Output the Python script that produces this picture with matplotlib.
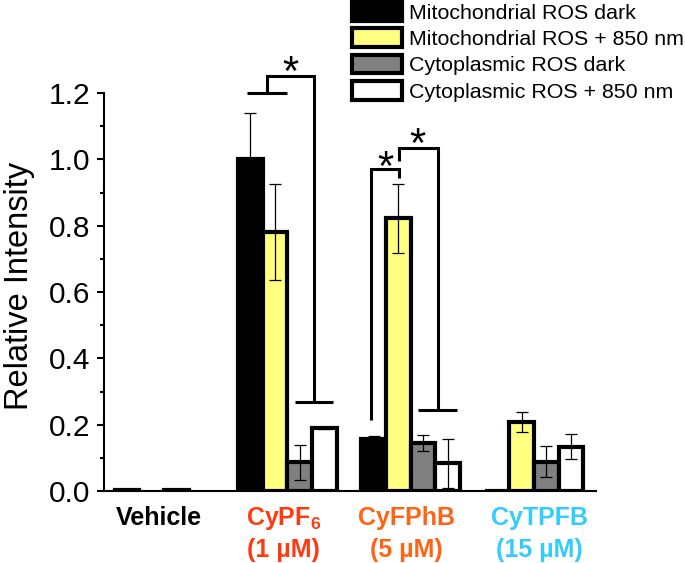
import numpy as np
import matplotlib
matplotlib.use("Agg")
import matplotlib.pyplot as plt
from matplotlib.transforms import offset_copy

plt.rcParams['font.family'] = ['Liberation Sans', 'DejaVu Sans']
plt.rcParams['mathtext.fontset'] = 'custom'
plt.rcParams['mathtext.rm'] = 'Liberation Sans'
plt.rcParams['mathtext.bf'] = 'Liberation Sans:bold'

groups = ["Vehicle", r"CyPF$_\mathbf{6}$", "CyFPhB", "CyTPFB"]
concentrations = ["", "(1 µM)", "(5 µM)", "(15 µM)"]
group_colors = ["#000000", "#FF3A10", "#FF6414", "#33CCFF"]
series = ["Mitochondrial ROS dark", "Mitochondrial ROS + 850 nm",
          "Cytoplasmic ROS dark", "Cytoplasmic ROS + 850 nm"]
series_colors = ["#000000", "#FFFF80", "#808080", "#FFFFFF"]

mito_dark = [0.003, 1.00, 0.157, 0.0]
mito_dark_err = [0.0, 0.14, 0.010, 0.0]
mito_850 = [np.nan, 0.782, 0.822, 0.209]
mito_850_err = [0.0, 0.145, 0.103, 0.030]
cyto_dark = [0.003, 0.087, 0.146, 0.088]
cyto_dark_err = [0.0, 0.053, 0.024, 0.047]
cyto_850 = [np.nan, 0.189, 0.083, 0.134]
cyto_850_err = [0.0, 0.003, 0.074, 0.037]

values = [mito_dark, mito_850, cyto_dark, cyto_850]
errors = [mito_dark_err, mito_850_err, cyto_dark_err, cyto_850_err]

fig = plt.figure(figsize=(6.85, 5.63), dpi=100)
ax = fig.add_axes([104/685, 1-491/563, 492/685, 398/563])

x = np.arange(len(groups))
w = 0.2
offsets = [-0.3, -0.1, 0.1, 0.3]
handles = []
for i in range(4):
    v = np.array(values[i], dtype=float)
    e = np.array(errors[i], dtype=float)
    mask = ~np.isnan(v)
    b = ax.bar(x[mask] + offsets[i], v[mask], width=w, color=series_colors[i],
               edgecolor='black', linewidth=3, zorder=2, label=series[i])
    handles.append(b)
    emask = mask & (e > 0)
    ax.errorbar(x[emask] + offsets[i], v[emask], yerr=e[emask], fmt='none',
                ecolor='black', elinewidth=0.9, capsize=4, capthick=0.9, zorder=3)

ax.set_xlim(-0.487, 3.504)
ax.set_ylim(0, 1.2)
yt = np.arange(0, 1.21, 0.2)
ax.set_yticks(yt)
ax.set_yticklabels([f"{t:.1f}" for t in yt], fontsize=21.5)
ax.set_yticks(np.arange(0.1, 1.2, 0.2), minor=True)
ax.tick_params(axis='y', which='major', length=5, width=1.5, direction='out', pad=5)
ax.tick_params(axis='y', which='minor', length=3, width=1.5, direction='out')
ax.set_xticks([])
for s in ['top', 'right']:
    ax.spines[s].set_visible(False)
ax.spines['left'].set_linewidth(1.5)
ax.spines['bottom'].set_linewidth(1.5)
ax.set_ylabel("Relative Intensity", fontsize=23.5)
ax.yaxis.set_label_coords(-0.140, 0.514)

# category labels (two lines, placed below the axis)
label_dx = [-5, -4, -4, 6]
for xi, lab, conc, col, dx in zip(x, groups, concentrations, group_colors, label_dx):
    t1 = offset_copy(ax.transData, fig=fig, x=dx, y=-(525-491), units='dots')
    ax.text(xi, 0, lab, ha='center', va='baseline', fontsize=18, fontweight='bold',
            color=col, transform=t1, clip_on=False)
    if conc:
        t2 = offset_copy(ax.transData, fig=fig, x=dx, y=-(557-491), units='dots')
        ax.text(xi, 0, conc, ha='center', va='baseline', fontsize=18,
                fontweight='bold', color=col, transform=t2, clip_on=False)

# significance brackets
lw = 2.2
def line(xs, ys):
    ax.plot(xs, ys, color='black', lw=lw, clip_on=False, zorder=4,
            solid_capstyle='butt', solid_joinstyle='miter')

star_fs = 30
line([0.673, 0.998], [1.2, 1.2])
line([0.835, 0.835, 1.217, 1.217], [1.2, 1.252, 1.252, 0.269])
line([1.062, 1.371], [0.269, 0.269])
ax.text(1.028, 1.225, "*", ha='center', va='baseline', fontsize=star_fs, clip_on=False)

line([1.679, 1.679, 1.908, 1.908], [0.214, 0.971, 0.971, 0.944])
ax.text(1.792, 0.938, "*", ha='center', va='baseline', fontsize=star_fs, clip_on=False)
line([1.908, 1.908, 2.225, 2.225], [0.994, 1.034, 1.034, 0.244])
line([2.06, 2.376], [0.244, 0.244])
ax.text(2.058, 1.006, "*", ha='center', va='baseline', fontsize=star_fs, clip_on=False)

leg = fig.legend(handles=handles, labels=series, loc='upper left',
                 bbox_to_anchor=(350/685, 1.0), frameon=False, fontsize=15.4,
                 handlelength=2.35, handleheight=0.95, labelspacing=0.27,
                 handletextpad=0.3, borderaxespad=0.0, borderpad=0.1)

fig.savefig("out.png", dpi=100)
